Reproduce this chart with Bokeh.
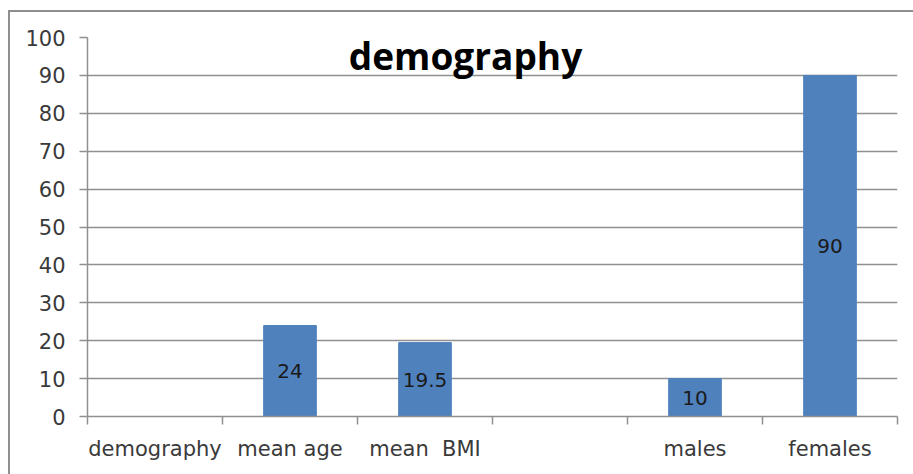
from bokeh.plotting import figure
from bokeh.models import ColumnDataSource, FixedTicker, Label
from bokeh.embed import file_html
from bokeh.resources import INLINE

categories = ["demography", "mean age", "mean\u00a0 BMI", "", "males", "females"]
values = [None, 24, 19.5, None, 10, 90]
value_labels = ["", "24", "19.5", "", "10", "90"]
y_ticks = [0, 10, 20, 30, 40, 50, 60, 70, 80, 90, 100]
title_text = "demography"

xs = [i + 0.5 for i in range(len(categories))]
tops = [float("nan") if v is None else v for v in values]
mids = [float("nan") if v is None else v / 2 for v in values]

src = ColumnDataSource(dict(x=xs, top=tops, mid=mids, lab=value_labels))

p = figure(width=905, height=464, x_range=(0, len(categories)), y_range=(0, 100),
           output_backend="svg", toolbar_location=None,
           min_border_left=77, min_border_right=18, min_border_top=25, min_border_bottom=60)
p.styles = {"margin-left": "8px", "margin-top": "10px",
            "border-left": "2px solid #8f8f8f", "border-top": "2px solid #8f8f8f"}
p.outline_line_color = None
p.background_fill_color = "white"
p.border_fill_color = "white"

p.vbar(x="x", top="top", bottom=0, width=0.39, source=src,
       fill_color="#4F81BD", line_color="#4F81BD")
p.text(x="x", y="mid", text="lab", source=src, text_align="center",
       text_baseline="middle", text_font_size="20px", text_color="#1a1a1a",
       text_font={"value": "DejaVu Sans"})

# axes
xa = p.xaxis[0]
xa.ticker = FixedTicker(ticks=xs, minor_ticks=list(range(len(categories) + 1)))
xa.major_label_overrides = {x: c for x, c in zip(xs, categories)}
xa.major_tick_line_color = None
xa.minor_tick_out = 8
xa.minor_tick_in = 0
xa.minor_tick_line_color = "#8f8f8f"
xa.minor_tick_line_width = 1.5
xa.axis_line_color = "#8f8f8f"
xa.axis_line_width = 1.5
xa.major_label_text_font = "DejaVu Sans"
xa.major_label_text_font_size = "21px"
xa.major_label_text_color = "#3a3a3a"
xa.major_label_standoff = 12

ya = p.yaxis[0]
ya.ticker = FixedTicker(ticks=y_ticks)
ya.major_tick_out = 8
ya.major_tick_in = 0
ya.minor_tick_line_color = None
ya.major_tick_line_color = "#8f8f8f"
ya.major_tick_line_width = 1.5
ya.axis_line_color = "#8f8f8f"
ya.axis_line_width = 1.5
ya.major_label_text_font = "DejaVu Sans"
ya.major_label_text_font_size = "21px"
ya.major_label_text_color = "#3a3a3a"
ya.major_label_standoff = 14

p.xgrid.grid_line_color = None
p.ygrid.ticker = FixedTicker(ticks=y_ticks)
p.ygrid.grid_line_color = "#8f8f8f"
p.ygrid.grid_line_width = 1.5

p.add_layout(Label(x=2.80, y=95.3, text=title_text, text_align="center",
                   text_baseline="middle", text_font="Open Sans",
                   text_font_style="bold", text_font_size="37px", text_color="black"))

open("out.html", "w").write(file_html(p, INLINE))
